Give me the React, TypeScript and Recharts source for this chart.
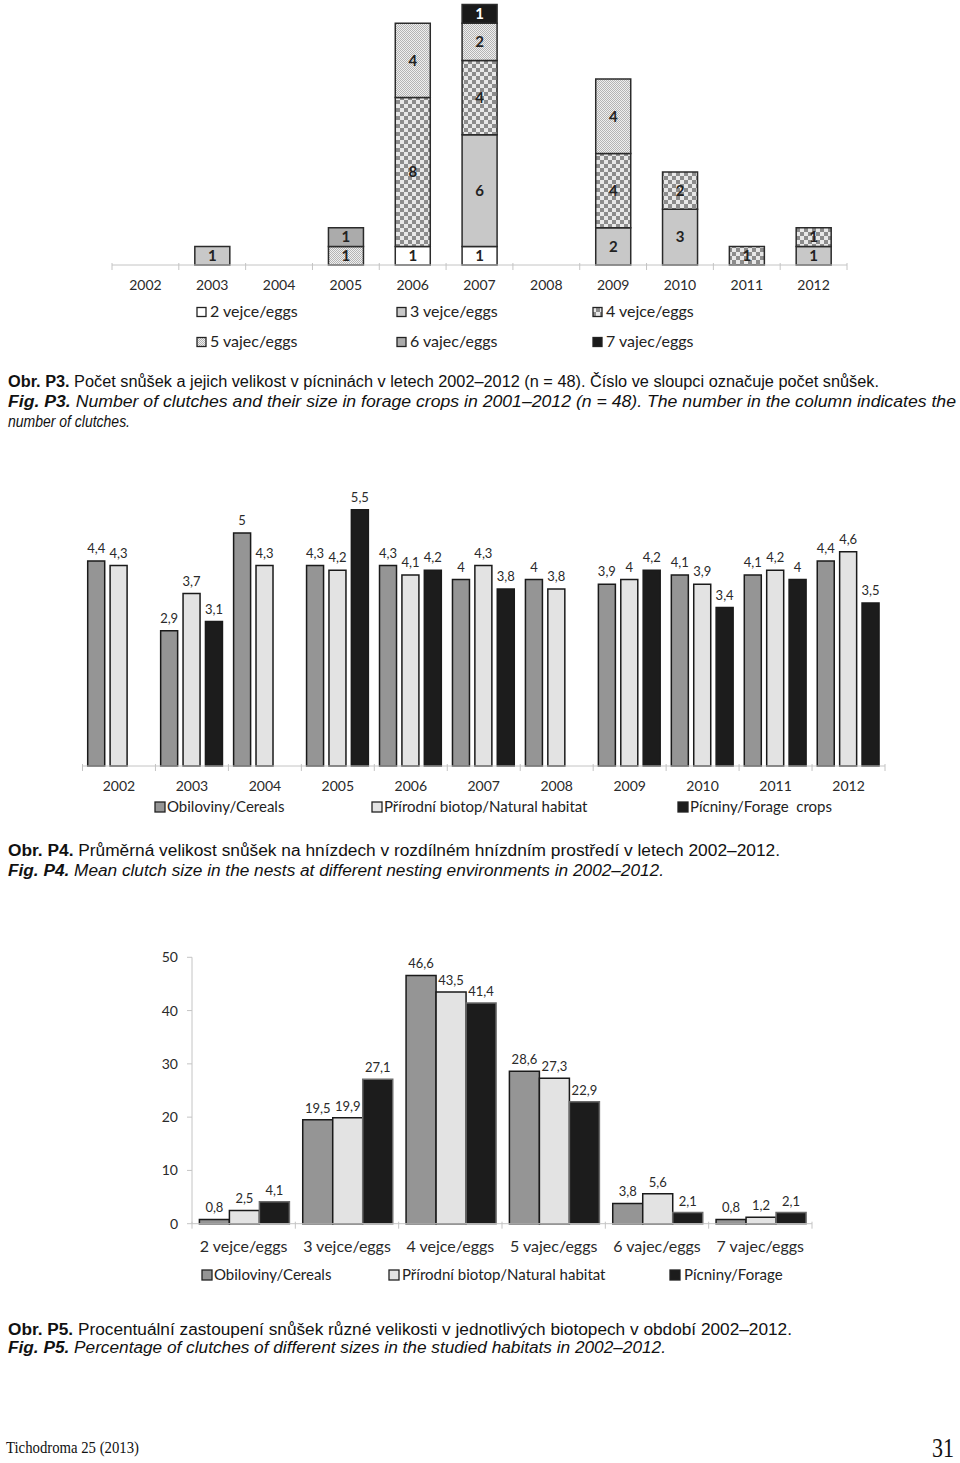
import React from 'react';
import { BarChart, Bar, XAxis, YAxis, LabelList } from 'recharts';

// ---------- shared categories ----------
const years = ['2002', '2003', '2004', '2005', '2006', '2007', '2008', '2009', '2010', '2011', '2012'];
const sizeLabels = ['2 vejce/eggs', '3 vejce/eggs', '4 vejce/eggs', '5 vajec/eggs', '6 vajec/eggs', '7 vajec/eggs'];
const habitatLabels = ['Obiloviny/Cereals', 'Přírodní biotop/Natural habitat', 'Pícniny/Forage  crops'];
const habitatLabelsP5 = ['Obiloviny/Cereals', 'Přírodní biotop/Natural habitat', 'Pícniny/Forage'];

// ---------- Fig. P3: number of clutches by size (forage crops) ----------
const eggs2 = [null, null, null, null, 1, 1, null, null, null, null, null];
const eggs3 = [null, 1, null, null, null, 6, null, 2, 3, null, 1];
const eggs4 = [null, null, null, null, 8, 4, null, 4, 2, 1, 1];
const eggs5 = [null, null, null, 1, 4, 2, null, 4, null, null, null];
const eggs6 = [null, null, null, 1, null, null, null, null, null, null, null];
const eggs7 = [null, null, null, null, null, 1, null, null, null, null, null];

// ---------- Fig. P4: mean clutch size ----------
const meanCereals = [4.4, 2.9, 5, 4.3, 4.3, 4, 4, 3.9, 4.1, 4.1, 4.4];
const meanNatural = [4.3, 3.7, 4.3, 4.2, 4.1, 4.3, 3.8, 4, 3.9, 4.2, 4.6];
const meanForage = [null, 3.1, null, 5.5, 4.2, 3.8, null, 4.2, 3.4, 4, 3.5];

// ---------- Fig. P5: percentage of clutches by size ----------
const pctCereals = [0.8, 19.5, 46.6, 28.6, 3.8, 0.8];
const pctNatural = [2.5, 19.9, 43.5, 27.3, 5.6, 1.2];
const pctForage = [4.1, 27.1, 41.4, 22.9, 2.1, 2.1];
const pctTicks = [0, 10, 20, 30, 40, 50];

const p3Data = years.map((y, i) => ({ year: y, e2: eggs2[i], e3: eggs3[i], e4: eggs4[i], e5: eggs5[i], e6: eggs6[i], e7: eggs7[i] }));
const p4Data = years.map((y, i) => ({ year: y, c: meanCereals[i], n: meanNatural[i], f: meanForage[i] }));
const p5Data = sizeLabels.map((s, i) => ({ size: s, c: pctCereals[i], n: pctNatural[i], f: pctForage[i] }));

const C_CEREAL = '#959595';
const C_NATURAL = '#e3e3e3';
const C_FORAGE = '#1c1c1c';
const AXIS = '#c4c4c4';
const FONT = "Lato, 'Open Sans', sans-serif";
const CAP_FONT = "'Liberation Sans', Arial, sans-serif";

const fmt = (v: any) => (v === null || v === undefined ? '' : String(v).replace('.', ','));

function makeTick(band: number, n: number, dy: number, fontSize: number) {
  return (props: any) => {
    const { x, y, payload, index } = props;
    return (
      <g>
        <line x1={x - band / 2} x2={x - band / 2} y1={y - 2} y2={y + 5} stroke={AXIS} strokeWidth={1} />
        {index === n - 1 ? (
          <line x1={x + band / 2} x2={x + band / 2} y1={y - 2} y2={y + 5} stroke={AXIS} strokeWidth={1} />
        ) : null}
        <text x={x} y={y + dy} textAnchor="middle" fontSize={fontSize} fill="#2a2a2a" fontFamily={FONT}>
          {payload.value}
        </text>
      </g>
    );
  };
}

const p3Fills = ['#ffffff', '#c8c8c8', 'url(#pat4)', 'url(#pat5)', '#ababab', '#1a1a1a'];

function LegendBox({ x, y, fill, label, tx, size = 9, fontSize = 15 }: any) {
  return (
    <g>
      <rect x={x} y={y - size / 2} width={size} height={size} fill={fill} stroke="#222" strokeWidth={1.3} />
      <text x={tx} y={y + 5} fontSize={fontSize} fill="#222" fontFamily={FONT} style={{ whiteSpace: 'pre' }}>
        {label}
      </text>
    </g>
  );
}

function Caption({ y, len, bold, rest, italic }: any) {
  return (
    <text
      x={8}
      y={y}
      textLength={len}
      lengthAdjust="spacingAndGlyphs"
      fontFamily={CAP_FONT}
      fontSize={16}
      fontStyle={italic ? 'italic' : 'normal'}
      fill="#111"
    >
      {bold ? <tspan fontWeight="bold">{bold}</tspan> : null}
      {rest}
    </text>
  );
}

export default function App() {
  const p3Band = 735 / years.length;
  const p4Band = 802.5 / years.length;
  const p5Band = 620 / sizeLabels.length;
  return (
    <div style={{ position: 'absolute', left: 0, top: 0, width: 960, height: 1463, background: '#fff', overflow: 'hidden', fontFamily: FONT }}>
      <svg width={960} height={1463} style={{ position: 'absolute', left: 0, top: 0 }}>
        <defs>
          <pattern id="pat4" width="8" height="8" patternUnits="userSpaceOnUse">
            <rect width="8" height="8" fill="#e8e8e8" />
            <rect width="4" height="4" fill="#8c8c8c" />
            <rect x="4" y="4" width="4" height="4" fill="#8c8c8c" />
          </pattern>
          <pattern id="pat5" width="2" height="2" patternUnits="userSpaceOnUse">
            <rect width="2" height="2" fill="#efefef" />
            <rect width="1" height="1" fill="#b4b4b4" />
            <rect x="1" y="1" width="1" height="1" fill="#b4b4b4" />
          </pattern>
        </defs>

        {/* Fig P3 legend */}
        <LegendBox x={197} y={312} fill={p3Fills[0]} label={sizeLabels[0]} tx={210} fontSize={16} />
        <LegendBox x={397} y={312} fill={p3Fills[1]} label={sizeLabels[1]} tx={410} fontSize={16} />
        <LegendBox x={593} y={312} fill={p3Fills[2]} label={sizeLabels[2]} tx={606} fontSize={16} />
        <LegendBox x={197} y={342} fill={p3Fills[3]} label={sizeLabels[3]} tx={210} fontSize={16} />
        <LegendBox x={397} y={342} fill={p3Fills[4]} label={sizeLabels[4]} tx={410} fontSize={16} />
        <LegendBox x={593} y={342} fill={p3Fills[5]} label={sizeLabels[5]} tx={606} fontSize={16} />

        <Caption y={387} len={871} bold="Obr. P3." rest=" Počet snůšek a jejich velikost v pícninách v letech 2002–2012 (n = 48). Číslo ve sloupci označuje počet snůšek." />
        <Caption y={407} len={948} italic bold="Fig. P3." rest=" Number of clutches and their size in forage crops in 2001–2012 (n = 48). The number in the column indicates the" />
        <Caption y={427} len={122} italic rest="number of clutches." />

        {/* Fig P4 legend */}
        <LegendBox x={155} y={807} size={10} fill={C_CEREAL} label={habitatLabels[0]} tx={167} />
        <LegendBox x={372} y={807} size={10} fill={C_NATURAL} label={habitatLabels[1]} tx={384} />
        <LegendBox x={678} y={807} size={10} fill={C_FORAGE} label={habitatLabels[2]} tx={690} />

        <Caption y={856} len={772} bold="Obr. P4." rest=" Průměrná velikost snůšek na hnízdech v rozdílném hnízdním prostředí v letech 2002–2012." />
        <Caption y={876} len={656} italic bold="Fig. P4." rest=" Mean clutch size in the nests at different nesting environments in 2002–2012." />

        {/* Fig P5 legend */}
        <LegendBox x={202} y={1275} size={10} fill={C_CEREAL} label={habitatLabelsP5[0]} tx={214} />
        <LegendBox x={389} y={1275} size={10} fill={C_NATURAL} label={habitatLabelsP5[1]} tx={402} />
        <LegendBox x={670} y={1275} size={10} fill={C_FORAGE} label={habitatLabelsP5[2]} tx={684} />

        <Caption y={1335} len={784} bold="Obr. P5." rest=" Procentuální zastoupení snůšek různé velikosti v jednotlivých biotopech v období 2002–2012." />
        <Caption y={1353} len={658} italic bold="Fig. P5." rest=" Percentage of clutches of different sizes in the studied habitats in 2002–2012." />

        <text x={6} y={1453} textLength={133} lengthAdjust="spacingAndGlyphs" fontFamily="'Liberation Serif', 'Times New Roman', serif" fontSize={16} fill="#111">
          Tichodroma 25 (2013)
        </text>
        <text x={932} y={1457} textLength={22} lengthAdjust="spacingAndGlyphs" fontFamily="'Liberation Serif', 'Times New Roman', serif" fontSize={28} fill="#111">
          31
        </text>
      </svg>

      {/* Fig. P3 chart */}
      <div style={{ position: 'absolute', left: 0, top: 0 }}>
        <BarChart width={960} height={300} data={p3Data} margin={{ top: 4.6, right: 113, bottom: 5, left: 112 }} barSize={35}>
          <XAxis dataKey="year" height={30} stroke={AXIS} tickLine={false} tickSize={0} tickMargin={0} interval={0} tick={makeTick(p3Band, years.length, 25, 14)} />
          <YAxis hide domain={[0, 14]} />
          {(['e2', 'e3', 'e4', 'e5', 'e6', 'e7'] as const).map((k, i) => (
            <Bar key={k} dataKey={k} stackId="a" fill={p3Fills[i]} stroke="#2b2b2b" strokeWidth={1.5} isAnimationActive={false}>
              <LabelList dataKey={k} position="center" formatter={fmt} fontSize={15} fontWeight="bold" fill={i === 5 ? '#ffffff' : '#222'} fontFamily={FONT} />
            </Bar>
          ))}
        </BarChart>
      </div>

      {/* Fig. P4 chart */}
      <div style={{ position: 'absolute', left: 0, top: 470 }}>
        <BarChart width={960} height={330} data={p4Data} margin={{ top: 16.4, right: 75, bottom: 4, left: 82.5 }} barCategoryGap={5.2} barGap={5.4}>
          <XAxis dataKey="year" height={30} stroke={AXIS} tickLine={false} tickSize={0} tickMargin={0} interval={0} tick={makeTick(p4Band, years.length, 25, 14)} />
          <YAxis hide domain={[0, 6]} />
          <Bar dataKey="c" fill={C_CEREAL} stroke="#1a1a1a" strokeWidth={1.5} isAnimationActive={false}>
            <LabelList dataKey="c" position="top" offset={8} formatter={fmt} fontSize={13} fill="#2a2a2a" fontFamily={FONT} />
          </Bar>
          <Bar dataKey="n" fill={C_NATURAL} stroke="#1a1a1a" strokeWidth={1.5} isAnimationActive={false}>
            <LabelList dataKey="n" position="top" offset={8} formatter={fmt} fontSize={13} fill="#2a2a2a" fontFamily={FONT} />
          </Bar>
          <Bar dataKey="f" fill={C_FORAGE} stroke="#1a1a1a" strokeWidth={1.5} isAnimationActive={false}>
            <LabelList dataKey="f" position="top" offset={8} formatter={fmt} fontSize={13} fill="#2a2a2a" fontFamily={FONT} />
          </Bar>
        </BarChart>
      </div>

      {/* Fig. P5 chart */}
      <div style={{ position: 'absolute', left: 0, top: 940 }}>
        <BarChart width={960} height={330} data={p5Data} margin={{ top: 17.3, right: 148, bottom: 16.3, left: 152 }} barCategoryGap={7.4} barGap={0}>
          <XAxis dataKey="size" height={30} stroke={AXIS} tickLine={false} tickSize={0} tickMargin={0} interval={0} tick={makeTick(p5Band, sizeLabels.length, 28, 16)} />
          <YAxis width={40} domain={[0, 50]} ticks={pctTicks} stroke={AXIS} tickSize={5} tickMargin={9} tick={{ fontSize: 14, fill: '#2a2a2a', fontFamily: FONT }} />
          <Bar dataKey="c" fill={C_CEREAL} stroke="#1a1a1a" strokeWidth={1.5} isAnimationActive={false}>
            <LabelList dataKey="c" position="top" offset={7} formatter={fmt} fontSize={13} fill="#2a2a2a" fontFamily={FONT} />
          </Bar>
          <Bar dataKey="n" fill={C_NATURAL} stroke="#1a1a1a" strokeWidth={1.5} isAnimationActive={false}>
            <LabelList dataKey="n" position="top" offset={7} formatter={fmt} fontSize={13} fill="#2a2a2a" fontFamily={FONT} />
          </Bar>
          <Bar dataKey="f" fill={C_FORAGE} stroke="#6a6a6a" strokeWidth={1.5} isAnimationActive={false}>
            <LabelList dataKey="f" position="top" offset={7} formatter={fmt} fontSize={13} fill="#2a2a2a" fontFamily={FONT} />
          </Bar>
        </BarChart>
      </div>
    </div>
  );
}
